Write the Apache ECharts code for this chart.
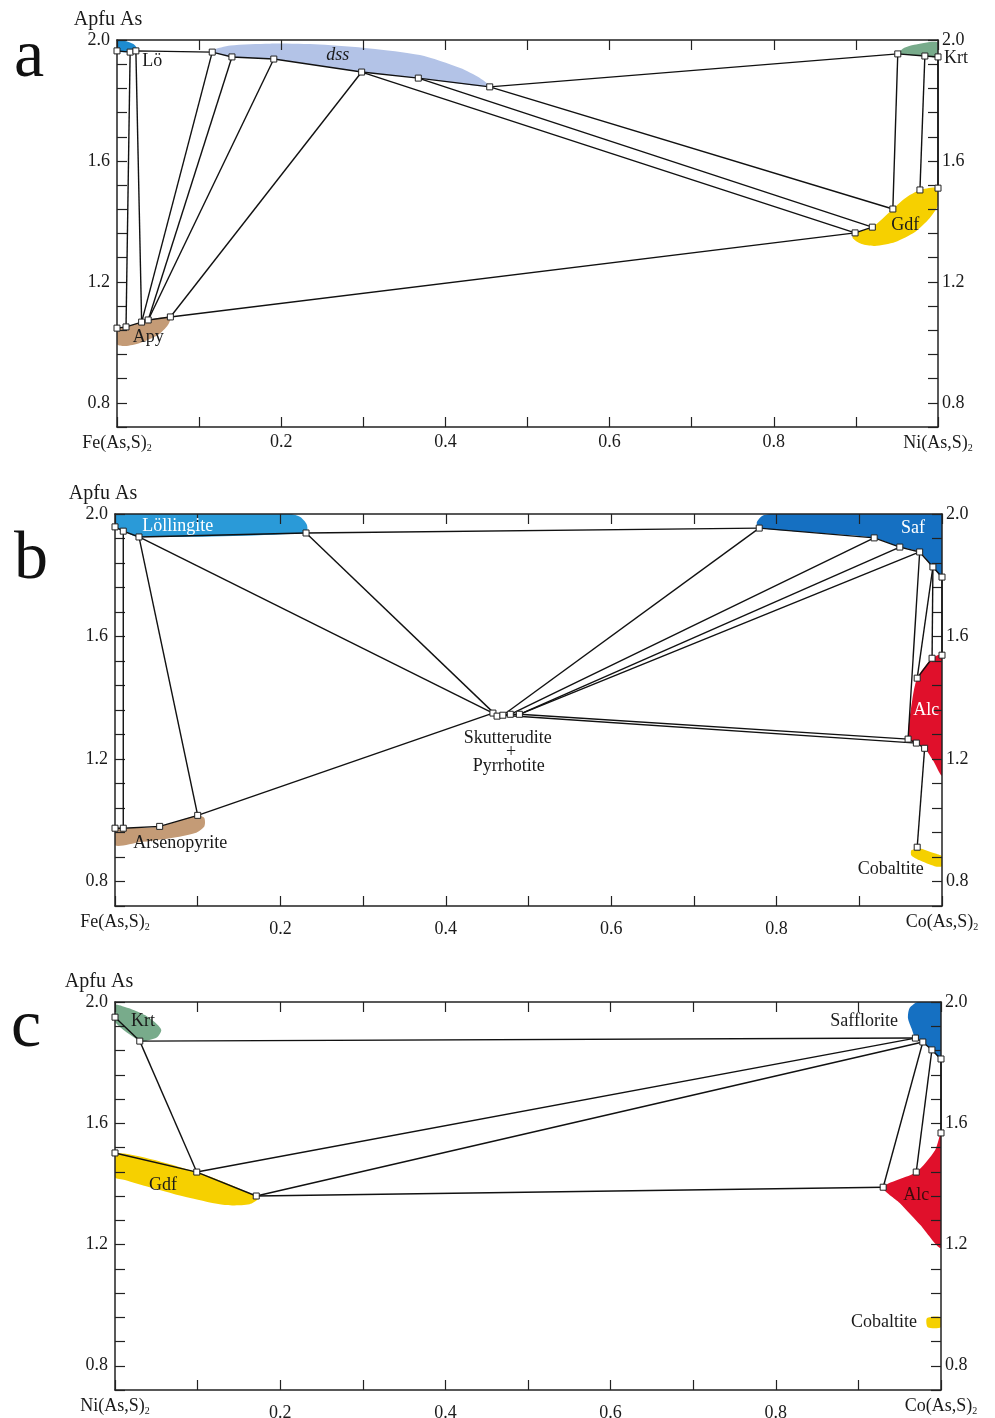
<!DOCTYPE html>
<html>
<head>
<meta charset="utf-8">
<script src="https://cdn.jsdelivr.net/npm/echarts@6/dist/echarts.min.js"></script>
<style>
  html, body { margin: 0; padding: 0; background: #fff; }
  #chart { width: 995px; height: 1418px; }
</style>
</head>
<body>
<div id="chart"></div>
<script>
// shared axes: x = fraction of the right end-member, y = As apfu
const xTicks = [0.2, 0.4, 0.6, 0.8]
const yTicks = [0.8, 1.2, 1.6, 2.0]
const endsA = ['Fe(As,S)', 'Ni(As,S)']
const endsB = ['Fe(As,S)', 'Co(As,S)']
const endsC = ['Ni(As,S)', 'Co(As,S)']

// ---- panel a : Fe - Ni ----
const nodesA = {
  A1: [0, 1.964], A2: [0.016, 1.960], A3: [0.023, 1.964],
  D1: [0.116, 1.960], D2: [0.140, 1.944], D3: [0.191, 1.937], D4: [0.298, 1.894], D5: [0.367, 1.874], D6: [0.454, 1.845],
  K1: [0.951, 1.954], K2: [0.984, 1.947], K3: [1.0, 1.944],
  G1: [0.945, 1.441], G2: [0.920, 1.381], G3: [0.899, 1.362], G4: [0.978, 1.504], G5: [1.0, 1.510],
  P1: [0, 1.047], P2: [0.011, 1.051], P3: [0.030, 1.067], P4: [0.038, 1.074], P5: [0.065, 1.084]
}
const tiesA = [
  ['A2', 'P2'], ['A3', 'P3'], ['D1', 'P3'], ['D2', 'P4'], ['D3', 'P4'], ['D4', 'P5'],
  ['P5', 'G3'], ['D4', 'G3'], ['D5', 'G2'], ['D6', 'G1'], ['D6', 'K1'],
  ['K1', 'G1'], ['K2', 'G4'], ['K3', 'G5']
]
const edgesA = [
  ['A1', 'A2', 'A3', 'D1', 'D2', 'D3', 'D4', 'D5', 'D6'],
  ['P1', 'P2', 'P3', 'P4', 'P5'], ['G3', 'G2'], ['K1', 'K2', 'K3']
]
const regionsA = {
  'Lö': [[0, 2.0], [0.01, 1.997], [0.02, 1.987], [0.024, 1.974], 'A3', 'A2', 'A1'],
  'dss': ['D1', 'D2', 'D3', 'D4', 'D5', 'D6', [0.442, 1.874], [0.418, 1.907], [0.369, 1.950], [0.308, 1.972],
          [0.247, 1.985], [0.186, 1.988], [0.138, 1.982], [0.116, 1.967]],
  'Krt': ['K1', [0.951, 1.957], [0.959, 1.974], [0.971, 1.984], [1.0, 1.992], 'K3', 'K2'],
  'Gdf': ['G3', 'G2', 'G1', [0.960, 1.477], 'G4', 'G5', [1.0, 1.454], [0.990, 1.411], [0.972, 1.365],
          [0.948, 1.332], [0.923, 1.319], [0.907, 1.325], [0.896, 1.345]],
  'Apy': ['P1', 'P2', 'P3', 'P4', 'P5', [0.062, 1.057], [0.050, 1.024], [0.028, 0.998], [0.010, 0.988], [0, 0.994]]
}
const labelsA = [['Lö', 0.043, 1.931], ['dss', 0.269, 1.950], ['Krt', 1.022, 1.940], ['Gdf', 0.960, 1.388], ['Apy', 0.038, 1.018]]

// ---- panel b : Fe - Co ----
const nodesB = {
  L0: [0, 1.958], L1: [0.010, 1.944], L2: [0.029, 1.925], L3: [0.231, 1.938],
  R1: [0, 0.974], R2: [0.010, 0.974], R4: [0.054, 0.980], R3: [0.100, 1.016],
  C1: [0.457, 1.350], C2: [0.462, 1.340], C3: [0.469, 1.343], C4: [0.478, 1.346], C5: [0.489, 1.346],
  F1: [0.779, 1.954], F2: [0.918, 1.922], F3: [0.949, 1.892], F4: [0.973, 1.876], F5: [0.989, 1.827], F6: [1.0, 1.794],
  E1: [1.0, 1.539], E2: [0.988, 1.529], E3: [0.970, 1.464], E4: [0.959, 1.265], E5: [0.969, 1.252], E6: [0.979, 1.235],
  B1: [0.970, 0.912]
}
const tiesB = [
  ['L1', 'R2'], ['L2', 'R3'], ['L2', 'C1'], ['L3', 'C2'], ['R3', 'C1'], ['L3', 'F1'],
  ['F1', 'C3'], ['F2', 'C4'], ['F3', 'C5'], ['F4', 'C5'], ['C5', 'E4'], ['C3', 'E5'],
  ['F4', 'E4'], ['F5', 'E3'], ['F5', 'E2'], ['F6', 'E1'], ['E6', 'B1']
]
const edgesB = [
  ['L0', 'L1', 'L2', 'L3'], ['R1', 'R2', 'R4', 'R3'], ['F1', 'F2', 'F3', 'F4', 'F5', 'F6'],
  ['E2', 'E3'], ['E4', 'E5', 'E6'], ['C1', 'C2', 'C3', 'C4', 'C5']
]
const regionsB = {
  'Löllingite': [[0, 2.0], [0.212, 2.0], [0.224, 1.990], [0.232, 1.965], 'L3', 'L2', 'L1', 'L0'],
  'Saf': [[0.776, 1.972], [0.782, 1.993], [0.792, 2.0], [1.0, 2.0], 'F6', 'F5', 'F4', 'F3', 'F2', [0.852, 1.938], 'F1'],
  'Alc': ['E1', 'E2', 'E3', [0.964, 1.392], 'E4', 'E5', 'E6', [0.989, 1.196], [1.0, 1.147]],
  'Arsenopyrite': ['R1', 'R2', 'R4', 'R3', [0.108, 1.007], [0.108, 0.980], [0.097, 0.958], [0.067, 0.941], [0.030, 0.928], [0, 0.918]],
  'Cobaltite': [[0.963, 0.902], [0.973, 0.908], [0.991, 0.892], [1.0, 0.882], [1.0, 0.850], [0.991, 0.850], [0.973, 0.869], [0.963, 0.885]]
}
const labelsB = [
  ['Löllingite', 0.076, 1.961], ['Saf', 0.965, 1.954], ['Alc', 0.981, 1.359],
  ['Skutterudite', 0.475, 1.268], ['+', 0.479, 1.222], ['Pyrrhotite', 0.476, 1.176],
  ['Arsenopyrite', 0.079, 0.925], ['Cobaltite', 0.938, 0.840]
]

// ---- panel c : Ni - Co ----
const nodesC = {
  K1: [0, 1.950], K2: [0.030, 1.871], G1: [0, 1.502], G2: [0.099, 1.439], G3: [0.171, 1.360],
  S1: [0.969, 1.881], S2: [0.978, 1.868], S3: [0.989, 1.842], S4: [1.0, 1.812],
  A1: [1.0, 1.568], A2: [0.970, 1.439], A3: [0.930, 1.389]
}
const tiesC = [['K2', 'G2'], ['K2', 'S1'], ['G2', 'S1'], ['G3', 'S2'], ['G3', 'A3'], ['S2', 'A3'], ['S3', 'A2'], ['S4', 'A1']]
const edgesC = [['K1', 'K2'], ['G1', 'G2', 'G3'], ['S1', 'S2', 'S3', 'S4']]
const regionsC = {
  'Krt': [[0, 1.990], [0.016, 1.980], [0.036, 1.957], [0.048, 1.934], [0.056, 1.908], [0.051, 1.884], [0.036, 1.871], 'K2', [0, 1.934]],
  'Gdf': ['G1', 'G2', 'G3', [0.173, 1.350], [0.163, 1.333], [0.133, 1.330], [0.091, 1.353], [0.042, 1.389], [0.012, 1.413], [0, 1.422]],
  'Safflorite': [[0.972, 2.0], [1.0, 2.0], 'S4', 'S3', 'S2', 'S1', [0.965, 1.908], [0.960, 1.947], [0.962, 1.980]],
  'Alc': ['A1', [0.993, 1.512], 'A2', 'A3', [0.950, 1.337], [0.975, 1.264], [1.0, 1.191]],
  'Cobaltite': [[0.983, 0.957], [1.0, 0.960], [1.0, 0.927], [0.984, 0.927]]
}
const labelsC = [['Krt', 0.034, 1.937], ['Gdf', 0.058, 1.396], ['Safflorite', 0.907, 1.937], ['Alc', 0.970, 1.363], ['Cobaltite', 0.931, 0.944]]

const FONT = '"Liberation Serif", "DejaVu Serif", serif'
const fills = {
  'Lö': '#1d8bd0', 'Löllingite': '#2a9ad8', 'dss': '#b3c3e7', 'Krt': '#78ab8b', 'Gdf': '#f6d000',
  'Apy': '#c49b76', 'Arsenopyrite': '#c49b76', 'Saf': '#1570c2', 'Safflorite': '#1570c2',
  'Alc': '#e0102b', 'Cobaltite': '#f5d000'
}

const panels = [
  { grid: { left: 117, top: 40, width: 821, height: 387 }, ends: endsA, nodes: nodesA, ties: tiesA, edges: edgesA,
    regions: regionsA, labels: labelsA, white: [], numPad: 0, letter: 'a', letterAt: [14, 24], nameShift: 18 },
  { grid: { left: 115, top: 514, width: 827, height: 392 }, ends: endsB, nodes: nodesB, ties: tiesB, edges: edgesB,
    regions: regionsB, labels: labelsB, white: ['Löllingite', 'Saf', 'Alc'], numPad: 8, letter: 'b', letterAt: [14, 526], nameShift: 24 },
  { grid: { left: 115, top: 1002, width: 826, height: 388 }, ends: endsC, nodes: nodesC, ties: tiesC, edges: edgesC,
    regions: regionsC, labels: labelsC, white: [], numPad: 8, letter: 'c', letterAt: [11, 994], nameShift: 32 }
]

const near = (a, b) => Math.abs(a - b) < 1e-6

const option = {
  backgroundColor: '#fff',
  animation: false,
  grid: [], xAxis: [], yAxis: [], series: [], graphic: []
}

panels.forEach((p, i) => {
  const pt = k => (typeof k === 'string' ? p.nodes[k] : k)
  option.grid.push(Object.assign({ outerBoundsMode: 'none', containLabel: false }, p.grid))

  const xFmt = v => {
    if (near(v, 0)) return `{n|${p.ends[0]}}{s|2}`
    if (near(v, 1)) return `{n|${p.ends[1]}}{s|2}`
    const t = xTicks.find(t => near(t, v))
    return t !== undefined ? `{v|${t.toFixed(1)}}` : ''
  }
  const yFmt = v => {
    const t = yTicks.find(t => near(t, v))
    return t !== undefined ? t.toFixed(1) : ''
  }
  const rich = {
    n: { fontSize: 18, fontFamily: FONT, color: '#1a1a1a' },
    s: { fontSize: 10, fontFamily: FONT, color: '#1a1a1a', verticalAlign: 'bottom', padding: [10, 0, 0, 0] },
    v: { fontSize: 18, fontFamily: FONT, color: '#1a1a1a', padding: [p.numPad, 0, 0, 0] }
  }
  const line = () => ({ show: true, onZero: false, lineStyle: { color: '#222', width: 1.5 } })
  const tick = () => ({ show: true, inside: true, length: 10, lineStyle: { color: '#222', width: 1.2 } })

  const xBase = () => ({ gridIndex: i, type: 'value', min: 0, max: 1, interval: 0.1, splitLine: { show: false }, axisLine: line(), axisTick: tick(), z: 2 })
  option.xAxis.push(Object.assign(xBase(), {
    position: 'bottom',
    axisLabel: { formatter: xFmt, rich, margin: 6, showMinLabel: true, showMaxLabel: true, hideOverlap: false }
  }))
  option.xAxis.push(Object.assign(xBase(), { position: 'top', axisLabel: { show: false } }))

  const yBase = () => ({ gridIndex: i, type: 'value', min: 0.72, max: 2.0, interval: 0.08, splitLine: { show: false }, axisLine: line(), axisTick: tick(), z: 2 })
  option.yAxis.push(Object.assign(yBase(), {
    position: 'left',
    name: 'Apfu As', nameLocation: 'end', nameGap: 10,
    nameTextStyle: { fontFamily: FONT, fontSize: 20, color: '#1a1a1a', padding: [0, p.nameShift, 0, 0] },
    axisLabel: { formatter: yFmt, fontFamily: FONT, fontSize: 18, color: '#1a1a1a', margin: 7, showMaxLabel: true }
  }))
  option.yAxis.push(Object.assign(yBase(), {
    position: 'right',
    axisLabel: { formatter: yFmt, fontFamily: FONT, fontSize: 18, color: '#1a1a1a', margin: 4, showMaxLabel: true }
  }))

  const ax = { xAxisIndex: 2 * i, yAxisIndex: 2 * i }
  const regionList = Object.keys(p.regions).map(name => ({ name, pts: p.regions[name].map(pt) }))

  option.series.push(Object.assign({
    type: 'custom', clip: true, z: 1, silent: true,
    data: regionList.map(r => r.pts[0]),
    renderItem: (params, api) => {
      const r = regionList[params.dataIndex]
      return {
        type: 'polygon',
        shape: { points: r.pts.map(q => api.coord(q)), smooth: 0.25 },
        style: { fill: fills[r.name], stroke: null }
      }
    }
  }, ax))

  const segs = p.ties.concat(p.edges).map(s => ({ coords: s.map(pt) }))
  option.series.push(Object.assign({
    type: 'lines', coordinateSystem: 'cartesian2d', polyline: true, z: 3, silent: true,
    lineStyle: { color: '#111', width: 1.4, opacity: 1 },
    data: segs
  }, ax))

  option.series.push(Object.assign({
    type: 'scatter', z: 4, silent: true, clip: false,
    symbol: 'rect', symbolSize: 6,
    itemStyle: { color: '#fff', borderColor: '#222', borderWidth: 1, opacity: 1 },
    data: Object.keys(p.nodes).map(k => p.nodes[k])
  }, ax))

  const labelData = p.labels.map(l => {
    const st = {}
    if (p.white.includes(l[0])) st.color = '#fff'
    if (l[0] === 'dss') st.fontStyle = 'italic'
    if (l[0] === 'Alc' && i === 2) st.color = '#3a0c0c'
    return { name: l[0], value: [l[1], l[2]], label: st }
  })
  option.series.push(Object.assign({
    type: 'scatter', z: 5, silent: true, clip: false, symbolSize: 0,
    itemStyle: { opacity: 1 },
    data: labelData,
    label: {
      show: true, position: [0, 0], align: 'center', verticalAlign: 'middle',
      fontFamily: FONT, fontSize: 18, color: '#1a1a1a',
      formatter: d => d.name
    }
  }, ax))

  option.graphic.push({
    type: 'text', left: p.letterAt[0], top: p.letterAt[1],
    style: { text: p.letter, font: `68px ${FONT}`, fill: '#111' }
  })
})

const chart = echarts.init(document.getElementById('chart'))
chart.setOption(option)
window.addEventListener('resize', () => chart.resize())
</script>
</body>
</html>
